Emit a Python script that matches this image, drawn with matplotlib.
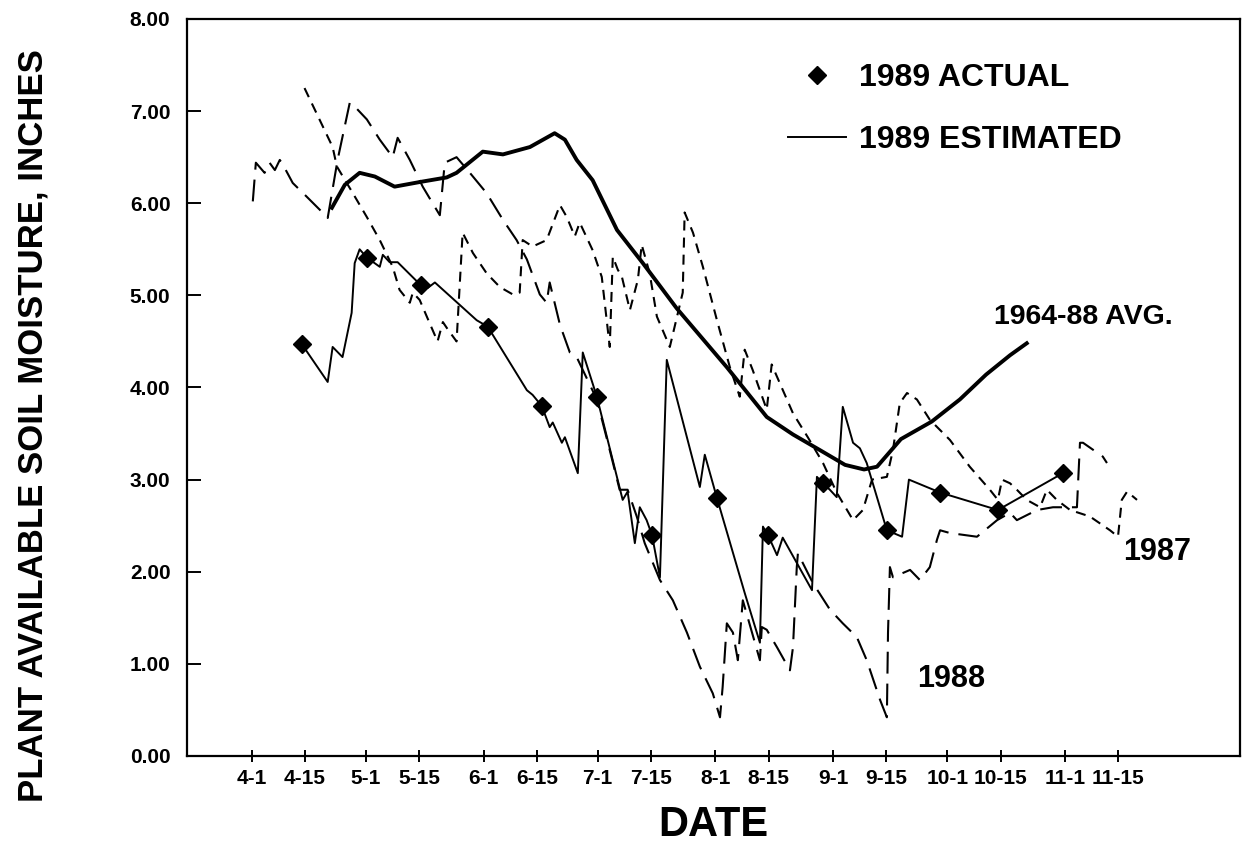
import matplotlib
matplotlib.use('Agg')
import matplotlib.pyplot as plt
from matplotlib.lines import Line2D

# x values are days after April 1, y values are inches of plant available soil moisture

#1964-88 average
avg_day = [21.1, 24.5, 28.4, 32.4, 37.6, 44.2, 51.3, 53.9, 60.8, 66.1, 73.2, 79.7, 82.4, 85.5,
           89.7, 96.1, 102.9, 111.8, 125.0, 135.5, 142.4, 149.5, 156.1, 161.1, 164.5, 170.8,
           178.9, 186.3, 193.2, 199.5, 203.9]
avg_val = [5.95, 6.20, 6.33, 6.29, 6.18, 6.23, 6.28, 6.33, 6.56, 6.53, 6.61, 6.76, 6.69, 6.47,
           6.25, 5.71, 5.35, 4.86, 4.22, 3.68, 3.49, 3.32, 3.16, 3.11, 3.14, 3.44,
           3.63, 3.87, 4.14, 4.35, 4.48]

#1989 estimated
est_day = [13.2, 20.0, 21.3, 23.9, 26.3, 27.1, 28.4, 30.3, 33.7, 34.5, 36.3, 38.4, 44.5, 46.3,
           48.2, 59.2, 62.1, 72.4, 73.9, 76.3, 78.4, 79.2, 81.6, 82.4, 85.8, 87.1, 90.8, 97.6,
           98.9, 100.8, 102.1, 103.9, 105.3, 107.4, 109.2, 117.9, 119.2, 122.4, 129.7, 133.7,
           134.5, 135.8, 138.2, 139.7, 147.4, 148.7, 150.3, 152.1, 153.9, 155.5, 158.2, 160.0,
           161.8, 167.1, 171.1, 172.9, 181.1, 196.3, 213.4]
est_val = [4.47, 4.06, 4.44, 4.33, 4.81, 5.35, 5.50, 5.41, 5.31, 5.44, 5.36, 5.36, 5.11, 5.08,
           5.14, 4.73, 4.66, 3.97, 3.92, 3.80, 3.57, 3.62, 3.40, 3.46, 3.07, 4.38, 3.90, 2.78,
           2.87, 2.31, 2.70, 2.56, 2.40, 1.94, 4.30, 2.92, 3.27, 2.80, 1.77, 1.23,
           2.49, 2.40, 2.18, 2.37, 1.80, 3.03, 2.96, 2.89, 2.81, 3.79, 3.40, 3.34,
           3.18, 2.45, 2.38, 3.00, 2.86, 2.67, 3.07]

#1989 actual (measured)
act_day = [13.2, 30.3, 44.5, 62.1, 76.3, 90.8, 105.3, 122.4, 135.8, 150.3, 167.1, 181.1, 196.3, 213.4]
act_val = [4.47, 5.41, 5.11, 4.66, 3.80, 3.90, 2.40, 2.80, 2.40, 2.96, 2.45, 2.86, 2.67, 3.07]

#1987
y87_day = [13.9, 21.3, 22.4, 26.6, 30.3, 33.7, 37.1, 38.9, 41.6, 42.4, 44.2, 46.8, 48.9, 50.3,
           51.6, 53.9, 55.5, 58.2, 61.8, 65.3, 68.7, 70.5, 71.3, 73.9, 77.6, 81.1, 82.9, 85.0,
           86.3, 89.7, 92.1, 94.2, 95.0, 96.3, 97.4, 99.5, 101.6, 102.6, 104.7, 106.6, 110.0,
           113.4, 113.9, 116.1, 118.7, 122.4, 125.8, 128.4, 129.7, 131.8, 135.5, 136.8, 138.9,
           142.4, 146.3, 150.3, 153.9, 158.2, 160.8, 163.2, 167.1, 168.7, 170.5, 172.4, 175.0,
           178.4, 183.7, 188.9, 194.2, 196.3, 197.4, 199.5, 201.3, 203.9, 207.4, 209.2, 211.8,
           215.3, 220.5, 225.8, 227.9, 228.9, 230.3, 232.9]
y87_val = [7.25, 6.61, 6.40, 6.11, 5.85, 5.60, 5.31, 5.06, 4.92, 5.03, 4.95, 4.70, 4.50, 4.71,
           4.63, 4.50, 5.68, 5.46, 5.24, 5.09, 5.01, 5.03, 5.60, 5.53, 5.60, 5.98, 5.85, 5.64,
           5.79, 5.49, 5.20, 4.44, 5.42, 5.28, 5.20, 4.84, 5.17, 5.55, 5.24, 4.77, 4.44,
           5.03, 5.90, 5.68, 5.31, 4.73, 4.22, 3.90, 4.41, 4.19, 3.76, 4.25, 4.05,
           3.72, 3.46, 3.18, 2.86, 2.56, 2.67, 3.00, 3.03, 3.32, 3.83, 3.94, 3.87,
           3.65, 3.43, 3.14, 2.89, 2.78, 3.00, 2.96, 2.89, 2.78, 2.70, 2.89, 2.78,
           2.67, 2.60, 2.45, 2.38, 2.78, 2.87, 2.78]

#1988
y88_day = [0.3, 1.1, 3.4, 4.7, 6.1, 7.4, 8.2, 10.8, 14.5, 17.9, 20.0, 22.6, 25.8, 27.1, 30.3,
           33.7, 37.1, 38.4, 41.6, 45.0, 47.6, 49.5, 50.8, 53.9, 57.4, 61.8, 66.1, 69.7, 72.4,
           75.8, 77.6, 78.4, 81.1, 83.7, 85.5, 90.8, 94.2, 96.8, 98.9, 101.3, 103.4, 107.4,
           110.8, 114.5, 117.9, 121.3, 123.2, 123.9, 125.0, 126.6, 127.9, 129.2, 133.7, 134.2,
           135.5, 138.2, 141.6, 142.4, 143.4, 143.7, 147.6, 152.1, 155.5, 159.2, 161.8, 165.3,
           167.1, 167.4, 167.9, 168.7, 173.2, 175.8, 178.4, 180.3, 181.1, 183.7, 190.8, 196.1,
           199.5, 201.3, 206.6, 210.8, 217.1, 217.9, 218.7, 223.9, 225.0]
y88_val = [6.02, 6.44, 6.33, 6.44, 6.36, 6.47, 6.42, 6.22, 6.07, 5.93, 5.84, 6.47, 7.09, 7.05, 6.91,
           6.69, 6.50, 6.71, 6.47, 6.18, 6.00, 5.87, 6.44, 6.50, 6.33, 6.11, 5.82, 5.60, 5.39,
           5.01, 4.92, 5.14, 4.68, 4.38, 4.33, 3.87, 3.32, 2.89, 2.89, 2.60, 2.31, 1.91,
           1.69, 1.34, 0.97, 0.68, 0.42, 0.75, 1.44, 1.34, 1.04, 1.69, 1.04, 1.40,
           1.37, 1.18, 0.93, 1.18, 2.05, 2.20, 1.88, 1.59, 1.44, 1.29, 1.04, 0.61,
           0.42, 1.34, 2.05, 1.94, 2.02, 1.91, 2.05, 2.35, 2.45, 2.42, 2.38, 2.56,
           2.64, 2.56, 2.67, 2.70, 2.70, 3.40, 3.40, 3.25, 3.18]

#date ticks
tick_days = [0, 14, 30, 44, 61, 75, 91, 105, 122, 136, 153, 167, 183, 197, 214, 228]
tick_labels = ['4-1', '4-15', '5-1', '5-15', '6-1', '6-15', '7-1', '7-15',
               '8-1', '8-15', '9-1', '9-15', '10-1', '10-15', '11-1', '11-15']
y_ticks = [0, 1, 2, 3, 4, 5, 6, 7, 8]

plt.rcParams['font.family'] = ['Liberation Sans', 'DejaVu Sans']
plt.rcParams['font.weight'] = 'bold'

fig = plt.figure(figsize=(12.42, 8.55), dpi=100)
ax = fig.add_axes([0.1506, 0.1158, 0.8478, 0.862])

#the four curves
ax.plot(avg_day, avg_val, color='black', lw=2.8, solid_joinstyle='round')
ax.plot(y87_day, y87_val, color='black', lw=1.5, dashes=(4.8, 3.4))
ax.plot(y88_day, y88_val, color='black', lw=1.5, dashes=(10.5, 4.8))
ax.plot(est_day, est_val, color='black', lw=1.4)
ax.plot(act_day, act_val, linestyle='none', marker='D', markersize=9, color='black')

#axes
ax.set_xlim(-17, 260)
ax.set_ylim(0, 8)
ax.set_xticks(tick_days)
ax.set_xticklabels(tick_labels, fontsize=15, fontweight='bold')
ax.set_yticks(y_ticks)
ax.set_yticklabels(['%.2f' % v for v in y_ticks], fontsize=15, fontweight='bold')
ax.tick_params(axis='y', direction='in', length=10, width=1.4, pad=12)
ax.tick_params(axis='x', direction='inout', length=9, width=1.4, pad=5)
for s in ax.spines.values():
    s.set_linewidth(1.6)

ax.set_xlabel('DATE', fontsize=30, fontweight='bold', labelpad=12)
ax.set_ylabel('PLANT AVAILABLE SOIL MOISTURE, INCHES', fontsize=25, fontweight='bold')
ax.yaxis.set_label_coords(-0.131, 0.449)

#curve labels
ax.text(218.7, 4.76, '1964-88 AVG.', fontsize=20.5, fontweight='bold', ha='center', va='center')
ax.text(238.2, 2.21, '1987', fontsize=22, fontweight='bold', ha='center', va='center')
ax.text(184.0, 0.84, '1988', fontsize=22, fontweight='bold', ha='center', va='center')

#legend
handles = [Line2D([], [], color='black', marker='D', linestyle='none', markersize=9),
           Line2D([], [], color='black', lw=1.4)]
ax.legend(handles, ['1989 ACTUAL', '1989 ESTIMATED'], loc='upper left',
          bbox_to_anchor=(0.571, 0.94), frameon=False, borderpad=0, borderaxespad=0,
          handlelength=1.8, handletextpad=0.4, labelspacing=1.0,
          prop={'weight': 'bold', 'size': 23})

fig.savefig('out.png', dpi=100)
